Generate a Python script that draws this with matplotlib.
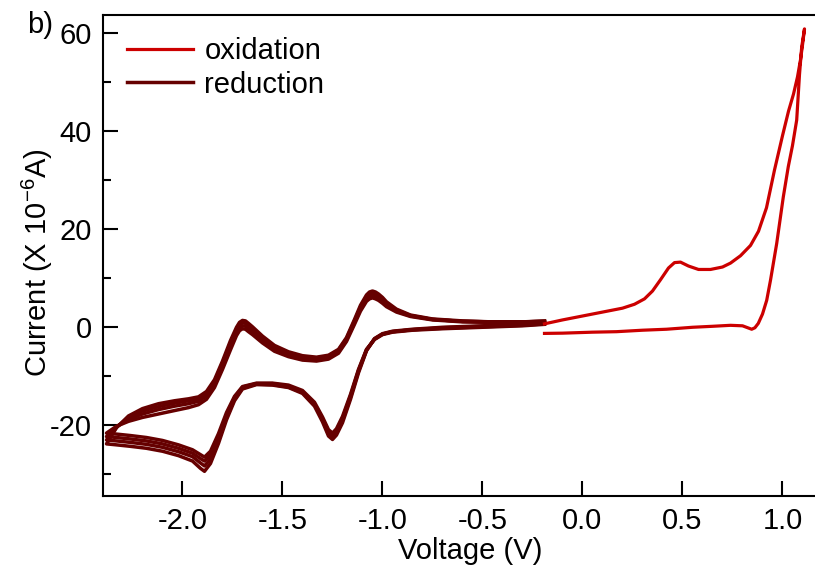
import matplotlib
matplotlib.use("Agg")
import matplotlib.pyplot as plt
from matplotlib.ticker import MultipleLocator

plt.rcParams['font.family'] = ['Liberation Sans', 'DejaVu Sans']
plt.rcParams['mathtext.fontset'] = 'custom'
plt.rcParams['mathtext.rm'] = 'Liberation Sans'
plt.rcParams['mathtext.default'] = 'rm'
plt.rcParams['axes.unicode_minus'] = False

# Oxidation scan: -0.19 V -> 1.11 V -> back to -0.19 V  (current in uA)
v_ox = [-0.19, -0.10, 0.00, 0.10, 0.20, 0.26, 0.31, 0.35, 0.39, 0.43, 0.46, 0.49,
        0.53, 0.58, 0.64, 0.70, 0.74, 0.79, 0.84, 0.88, 0.92, 0.96, 1.00, 1.03,
        1.055, 1.075, 1.09, 1.10, 1.11,
        1.096, 1.085, 1.071, 1.05, 1.029, 1.004, 0.971, 0.94, 0.921, 0.90, 0.879,
        0.862, 0.846, 0.80, 0.74, 0.65, 0.55, 0.42, 0.30, 0.17, 0.05, -0.10, -0.19]
i_ox = [0.6, 1.4, 2.2, 3.0, 3.8, 4.6, 5.7, 7.3, 9.6, 12.0, 13.1, 13.2,
        12.4, 11.7, 11.7, 12.2, 13.0, 14.5, 16.6, 19.5, 24.3, 32.0, 39.0, 44.0,
        47.5, 51.0, 54.5, 57.5, 60.8,
        57.1, 51.5, 42.2, 37.0, 32.7, 26.5, 17.0, 9.5, 5.4, 2.6, 0.7,
        -0.2, -0.5, 0.2, 0.3, 0.1, -0.1, -0.5, -0.7, -1.0, -1.1, -1.3, -1.35]

# Reduction scans: common voltage sweep -0.19 V -> -2.38 V -> -0.19 V
v_red = [-0.19, -0.30, -0.50, -0.70, -0.85, -0.95, -1.00, -1.04, -1.08, -1.12,
         -1.16, -1.20, -1.23, -1.25, -1.27, -1.30, -1.34, -1.40, -1.47, -1.55,
         -1.63, -1.70, -1.74, -1.78, -1.82, -1.86, -1.89, -1.91, -1.95, -2.02,
         -2.10, -2.18, -2.26, -2.33, -2.38,
         -2.33, -2.27, -2.20, -2.12, -2.04, -1.97, -1.92, -1.88, -1.84, -1.80,
         -1.76, -1.73, -1.715, -1.70, -1.685, -1.67, -1.65, -1.60, -1.54, -1.47,
         -1.40, -1.33, -1.27, -1.22, -1.18, -1.14, -1.11, -1.08, -1.065, -1.05,
         -1.035, -1.02, -1.00, -0.98, -0.93, -0.86, -0.75, -0.60, -0.45, -0.30,
         -0.19]

i_red_1 = [0.8, 0.5, 0.2, -0.1, -0.5, -0.9, -1.4, -2.4, -4.9, -9.4,
           -14.8, -19.6, -22.1, -23.0, -22.3, -19.4, -16.2, -13.6, -12.4, -11.9,
           -11.8, -12.7, -15.1, -19.0, -23.8, -27.9, -29.5, -28.9, -27.4, -26.3,
           -25.4, -24.8, -24.4, -24.1, -23.9,
           -20.6, -18.2, -16.7, -15.7, -15.1, -14.7, -14.3, -13.2, -10.8, -7.0,
           -2.8, -0.1, 0.9, 1.3, 1.2, 0.7, 0.0, -1.9, -3.8, -5.1,
           -5.9, -6.2, -5.8, -4.6, -2.2, 1.5, 4.4, 6.5, 7.1, 7.3,
           7.1, 6.7, 6.0, 5.1, 3.6, 2.4, 1.6, 1.2, 1.0, 1.0,
           1.2]
i_red_2 = [0.7, 0.4, 0.1, -0.2, -0.6, -1.0, -1.5, -2.5, -4.8, -9.1,
           -14.4, -19.1, -21.6, -22.5, -21.8, -19.0, -15.9, -13.4, -12.3, -11.8,
           -11.7, -12.5, -14.8, -18.5, -23.1, -27.0, -28.4, -27.8, -26.5, -25.5,
           -24.6, -24.0, -23.6, -23.3, -23.1,
           -20.5, -18.5, -17.2, -16.3, -15.6, -15.1, -14.7, -13.6, -11.2, -7.4,
           -3.4, -0.6, 0.4, 0.8, 0.7, 0.2, -0.5, -2.4, -4.2, -5.5,
           -6.2, -6.4, -6.0, -4.8, -2.4, 1.2, 4.0, 6.1, 6.7, 6.9,
           6.7, 6.3, 5.6, 4.8, 3.4, 2.3, 1.5, 1.1, 1.0, 1.0,
           1.1]
i_red_3 = [0.6, 0.3, 0.0, -0.3, -0.6, -1.0, -1.5, -2.5, -4.7, -8.9,
           -14.1, -18.7, -21.2, -22.1, -21.4, -18.7, -15.7, -13.2, -12.1, -11.6,
           -11.6, -12.3, -14.5, -18.0, -22.4, -26.2, -27.4, -26.9, -25.8, -24.8,
           -23.9, -23.3, -22.9, -22.6, -22.4,
           -20.4, -18.9, -17.8, -16.9, -16.2, -15.7, -15.2, -14.1, -11.7, -8.0,
           -4.0, -1.2, -0.2, 0.2, 0.1, -0.4, -1.1, -2.9, -4.6, -5.8,
           -6.5, -6.7, -6.3, -5.1, -2.7, 0.9, 3.6, 5.7, 6.2, 6.4,
           6.2, 5.9, 5.2, 4.5, 3.2, 2.2, 1.5, 1.1, 1.0, 1.0,
           1.1]
i_red_4 = [0.5, 0.2, -0.1, -0.4, -0.7, -1.1, -1.6, -2.6, -4.6, -8.7,
           -13.8, -18.3, -20.8, -21.7, -21.0, -18.4, -15.4, -13.0, -11.9, -11.5,
           -11.5, -12.2, -14.2, -17.5, -21.8, -25.4, -26.6, -26.1, -25.1, -24.1,
           -23.2, -22.6, -22.2, -21.9, -21.7,
           -20.3, -19.3, -18.5, -17.8, -17.1, -16.5, -15.9, -14.8, -12.4, -8.7,
           -4.7, -1.8, -0.8, -0.4, -0.5, -1.0, -1.6, -3.3, -5.0, -6.1,
           -6.8, -7.0, -6.6, -5.4, -3.0, 0.5, 3.2, 5.2, 5.7, 5.9,
           5.7, 5.4, 4.8, 4.1, 3.0, 2.1, 1.4, 1.0, 0.9, 0.9,
           1.0]

ox_color = '#cc0000'
red_color = '#660000'

fig = plt.figure(figsize=(8.15, 5.84), dpi=100)
ax = fig.add_axes([0.126, 0.151, 0.874, 0.823])

for k, cyc in enumerate([i_red_1, i_red_2, i_red_3, i_red_4]):
    ax.plot(v_red, cyc, color=red_color, lw=2.5, solid_joinstyle='round',
            label='reduction' if k == 0 else None, zorder=2)
ax.plot(v_ox, i_ox, color=ox_color, lw=2.3, solid_joinstyle='round',
        label='oxidation', zorder=3)

ax.set_xlim(-2.399, 1.1625)
ax.set_ylim(-34.5, 63.6)

ax.spines['right'].set_visible(False)
for s in ['top', 'left', 'bottom']:
    ax.spines[s].set_linewidth(1.5)

ax.xaxis.set_major_locator(MultipleLocator(0.5))
ax.yaxis.set_major_locator(MultipleLocator(20))
ax.yaxis.set_minor_locator(MultipleLocator(10))
ax.xaxis.set_major_formatter(matplotlib.ticker.FormatStrFormatter('%.1f'))
ax.tick_params(axis='both', which='major', direction='in', length=10.8,
               width=1.5, labelsize=21, pad=8, top=False, right=False)
ax.tick_params(axis='y', which='minor', direction='in', length=5.8, width=1.5,
               right=False)

ax.set_xlabel('Voltage (V)', fontsize=21)
ax.xaxis.set_label_coords(0.516, -0.086)
ax.set_ylabel('Current (X 10$^{-6}$A)', fontsize=21)
ax.yaxis.set_label_coords(-0.067, 0.484)

handles, labels = ax.get_legend_handles_labels()
order = [labels.index('oxidation'), labels.index('reduction')]
ax.legend([handles[i] for i in order], [labels[i] for i in order],
          loc='upper left', bbox_to_anchor=(0.034, 0.955), frameon=False,
          fontsize=21, handlelength=2.25, handletextpad=0.41,
          labelspacing=0.2, borderpad=0, borderaxespad=0)

fig.text(0.033, 0.981, 'b)', fontsize=21, va='top', ha='left')

fig.savefig('out.png', dpi=100)
